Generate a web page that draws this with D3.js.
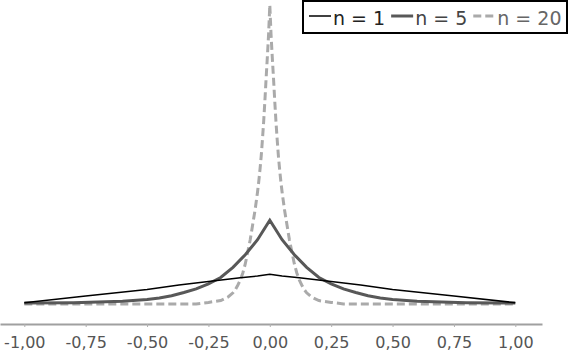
<!DOCTYPE html>
<html>
<head>
<meta charset="utf-8">
<script src="https://cdn.jsdelivr.net/npm/d3@7"></script>
<style>
  html, body { margin: 0; padding: 0; background: #fff; }
  svg { display: block; font-family: "DejaVu Sans", Verdana, sans-serif; }
</style>
</head>
<body>
<svg id="chart" width="568" height="352"></svg>
<script>
// x ticks along the bottom axis
const tickValues = [-1, -0.75, -0.5, -0.25, 0, 0.25, 0.5, 0.75, 1];

// n = 1 (thin black)
const x1 = [-1, -0.75, -0.5, -0.37, -0.25, -0.12, -0.05, 0, 0.05, 0.12, 0.25, 0.37, 0.5, 0.75, 1];
const y1 = [0.01, 0.23, 0.45, 0.6, 0.72, 0.84, 0.9, 0.96, 0.9, 0.84, 0.72, 0.6, 0.45, 0.23, 0.01];

// n = 5 (thick dark grey)
const x5 = [-1, -0.8, -0.7, -0.6, -0.5, -0.45, -0.4, -0.35, -0.3, -0.25, -0.2, -0.15, -0.1, -0.05, -0.02, 0,
            0.02, 0.05, 0.1, 0.15, 0.2, 0.25, 0.3, 0.35, 0.4, 0.45, 0.5, 0.6, 0.7, 0.8, 1];
const y5 = [0, 0.01, 0.03, 0.06, 0.12, 0.17, 0.24, 0.35, 0.47, 0.64, 0.85, 1.19, 1.61, 2.11, 2.5, 2.76,
            2.5, 2.11, 1.61, 1.19, 0.85, 0.64, 0.47, 0.35, 0.24, 0.17, 0.12, 0.06, 0.03, 0.01, 0];

// n = 20 (dashed light grey)
const x20 = [-1, -0.3, -0.25, -0.2, -0.17, -0.15, -0.14, -0.13, -0.12, -0.11, -0.1, -0.09, -0.08, -0.07, -0.06,
             -0.05, -0.045, -0.04, -0.035, -0.03, -0.025, -0.02, -0.015, -0.01, -0.005, 0,
             0.005, 0.01, 0.015, 0.02, 0.025, 0.03, 0.035, 0.04, 0.045, 0.05,
             0.06, 0.07, 0.08, 0.09, 0.1, 0.11, 0.12, 0.13, 0.14, 0.15, 0.17, 0.2, 0.25, 0.3, 1];
const y20 = [-0.03, -0.03, 0.02, 0.08, 0.2, 0.34, 0.45, 0.6, 0.77, 1.0, 1.3, 1.7, 2.1, 2.6, 3.1,
             3.7, 4.05, 4.45, 4.9, 5.45, 6.05, 6.75, 7.5, 8.2, 8.95, 9.93,
             8.95, 8.2, 7.5, 6.75, 6.05, 5.45, 4.9, 4.45, 4.05, 3.7,
             3.1, 2.6, 2.1, 1.7, 1.3, 1.0, 0.77, 0.6, 0.45, 0.34, 0.2, 0.08, 0.02, -0.03, -0.03];

const seriesNames = ["n = 1", "n = 5", "n = 20"];

const svg = d3.select("#chart");

const x = d3.scaleLinear().domain([-1.099, 1.1087]).range([0, 542]);
const y = d3.scaleLinear().domain([0, 10]).range([303, 3]);

const series = [
    { name: seriesNames[0], xs: x1, ys: y1, color: "#000000", width: 1.5, dash: null, text: "#222" },
    { name: seriesNames[1], xs: x5, ys: y5, color: "#585858", width: 3, dash: null, text: "#444" },
    { name: seriesNames[2], xs: x20, ys: y20, color: "#aaaaaa", width: 3, dash: "8,4", text: "#666" }
];

const line = d3.line()
    .x(d => x(d[0]))
    .y(d => y(d[1]));

// draw n = 20 underneath, black on top
const drawOrder = [2, 1, 0];
drawOrder.forEach(i => {
    const s = series[i];
    svg.append("path")
        .datum(d3.zip(s.xs, s.ys))
        .attr("fill", "none")
        .attr("stroke", s.color)
        .attr("stroke-width", s.width)
        .attr("stroke-dasharray", s.dash)
        .attr("d", line);
});

// axis with comma decimals
const locale = d3.formatLocale({ decimal: ",", thousands: ".", grouping: [3], currency: ["", ""], minus: "-" });
const fmt = locale.format(".2f");

const axis = d3.axisBottom(x)
    .tickValues(tickValues)
    .tickFormat(fmt)
    .tickSizeInner(3)
    .tickSizeOuter(0)
    .tickPadding(10);

const gx = svg.append("g")
    .attr("transform", `translate(0,${y(0) + 21})`)
    .call(axis);

gx.select(".domain").attr("stroke", "#a0a0a0").attr("stroke-width", 2);
gx.selectAll(".tick line").attr("stroke", "#b0b0b0");
gx.selectAll(".tick text")
    .attr("fill", "#555")
    .attr("font-size", 16)
    .attr("font-family", "DejaVu Sans, Verdana, sans-serif");

// legend
const legend = svg.append("g");
legend.append("rect")
    .attr("x", 303)
    .attr("y", 1)
    .attr("width", 264)
    .attr("height", 32)
    .attr("fill", "#fff")
    .attr("stroke", "#000")
    .attr("stroke-width", 2);

let lx = 309;
series.forEach(s => {
    legend.append("line")
        .attr("x1", lx)
        .attr("x2", lx + 22)
        .attr("y1", 16)
        .attr("y2", 16)
        .attr("stroke", s.color)
        .attr("stroke-width", s.width)
        .attr("stroke-dasharray", s.dash);

    const t = legend.append("text")
        .attr("x", lx + 24)
        .attr("y", 25)
        .attr("font-size", 19)
        .attr("fill", s.text)
        .text(s.name);

    lx += 24 + t.node().getComputedTextLength() + 6;
});
</script>
</body>
</html>
